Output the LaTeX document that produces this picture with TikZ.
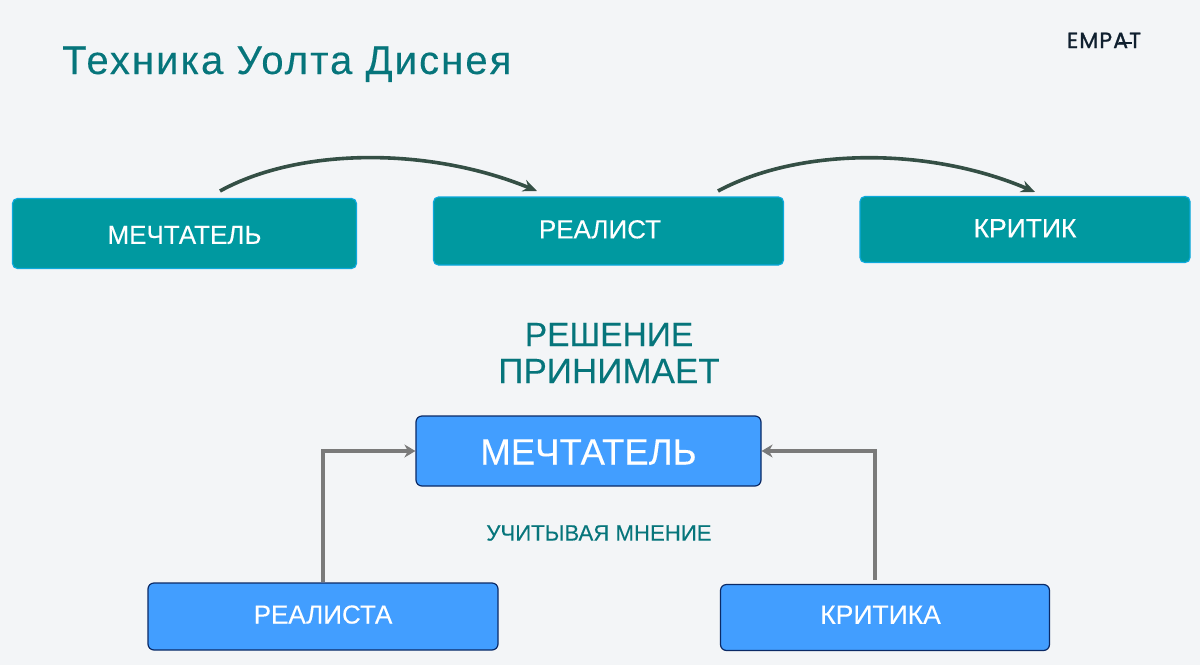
\documentclass[tikz,border=0pt]{standalone}
\usepackage{fontspec}
\setmainfont[FakeBold=0.2]{Liberation Sans}
\newfontfamily\logofont[LetterSpace=5,FakeBold=1.2]{Poppins}
\newfontfamily\titlefont[LetterSpace=5.2,FakeBold=0.2]{Liberation Sans}
\usetikzlibrary{arrows.meta}
\definecolor{bgc}{HTML}{F3F5F7}
\definecolor{tealbox}{HTML}{0099A0}
\definecolor{tealedge}{HTML}{0CA9DC}
\definecolor{tealtext}{HTML}{06757B}
\definecolor{bluebox}{HTML}{429EFF}
\definecolor{blueedge}{HTML}{0B2A66}
\definecolor{curvec}{HTML}{344F45}
\definecolor{greyarrow}{HTML}{7A7A7A}
\definecolor{logoc}{HTML}{10202F}
\tikzset{
  x=1pt,y=-1pt,
  tealnode/.style={draw=tealedge,fill=tealbox,line width=1.2pt,rounded corners=5pt,text=white,inner sep=0pt,text depth=0pt,font=\fontsize{26}{30}\selectfont},
  bluenode/.style={draw=blueedge,fill=bluebox,line width=1.2pt,rounded corners=6pt,text=white,inner sep=0pt,text depth=0pt},
  headtext/.style={text=tealtext,inner sep=0pt,align=center},
  curvearrow/.style={draw=curvec,line width=3.6pt,-{Stealth[length=14pt,width=12pt]}},
  elbow/.style={draw=greyarrow,line width=3.4pt,-{Stealth[length=11pt,width=13pt]}},
}
\begin{document}
\begin{tikzpicture}
\useasboundingbox (0,0) rectangle (1200,665);
\fill[bgc] (0,0) rectangle (1200,665);
\node[headtext,anchor=base west,font=\fontsize{40}{44}\titlefont\selectfont] (title) at (62,74) {Техника Уолта Диснея};
\node[text=logoc,inner sep=0pt,anchor=base,font=\fontsize{22}{22}\logofont\selectfont] (logo) at (1104,48) {EMPAT};
\coordinate (l1) at (1119,43);
\coordinate (l2) at (1132,43);
\draw[logoc,line width=2pt] (l1) -- (l2);
\node[tealnode,text height=20.6pt,minimum width=344pt,minimum height=70pt] (a) at (184.5,233.5) {МЕЧТАТЕЛЬ};
\node[tealnode,text height=14.6pt,minimum width=350pt,minimum height=68pt] (b) at (608.5,231) {\hspace*{-17pt}РЕАЛИСТ};
\node[tealnode,text height=15.6pt,minimum width=330pt,minimum height=66pt,font=\fontsize{26.5}{30}\selectfont] (c) at (1025,229.5) {КРИТИК};
\node[headtext,font=\fontsize{34}{37}\selectfont] (h) at (609,353) {{\fontsize{33.5}{37}\selectfont РЕШЕНИЕ}\\{\fontsize{35}{37}\selectfont ПРИНИМАЕТ}};
\node[bluenode,text height=27pt,minimum width=345pt,minimum height=70pt,font=\fontsize{36.5}{40}\selectfont] (m) at (588.5,451) {МЕЧТАТЕЛЬ};
\node[headtext,font=\fontsize{22.2}{26}\selectfont] (u) at (599,533) {УЧИТЫВАЯ МНЕНИЕ};
\node[bluenode,text height=14pt,minimum width=350pt,minimum height=67pt,font=\fontsize{26}{28}\selectfont] (r) at (323,616.5) {РЕАЛИСТА};
\node[bluenode,text height=12.6pt,minimum width=329pt,minimum height=66pt,font=\fontsize{26.5}{28}\selectfont] (k) at (885,617.5) {\hspace*{-9pt}КРИТИКА};
\coordinate (a1) at (220,191);
\coordinate (a2) at (537,191);
\coordinate (b1) at (718,191);
\coordinate (b2) at (1035,192);
\coordinate (k1) at (875,580);
\draw[curvearrow] (a1) .. controls (300,147) and (430,147) .. (a2);
\draw[curvearrow] (b1) .. controls (800,147) and (930,147) .. (b2);
\draw[elbow] (r.north) |- (m.west);
\draw[elbow] (k1) |- (m.east);
\end{tikzpicture}
\end{document}
